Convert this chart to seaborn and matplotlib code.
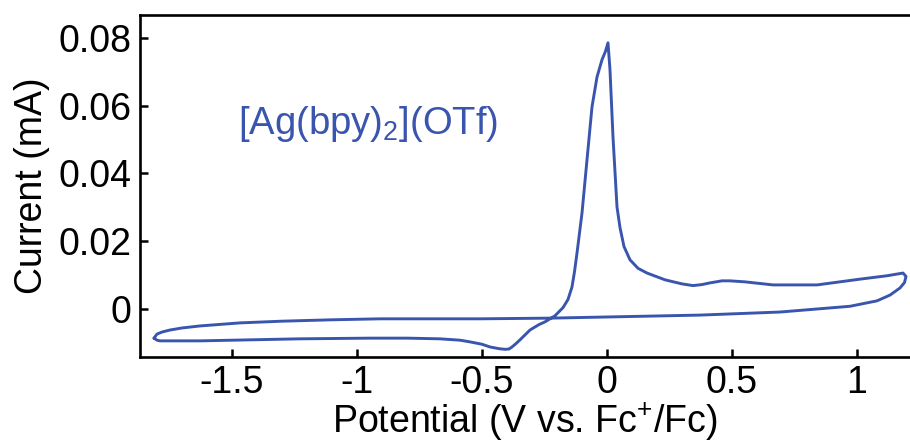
import matplotlib
matplotlib.use("Agg")
import matplotlib.pyplot as plt
import seaborn as sns
import pandas as pd

# Cyclic voltammogram of [Ag(bpy)2](OTf): one closed sweep, in trace order
potential_v = [
    -1.812, -1.800, -1.788, -1.728, -1.628, -1.428, -1.228, -0.948, -0.800,
    -0.668, -0.588, -0.548, -0.500, -0.468, -0.432, -0.408, -0.392, -0.380,
    -0.364, -0.348, -0.308, -0.272, -0.248, -0.208, -0.176, -0.156, -0.140,
    -0.130, -0.120, -0.100, -0.080, -0.060, -0.040, -0.020, -0.006, 0.004,
    0.012, 0.024, 0.040, 0.052, 0.068, 0.092, 0.124, 0.160, 0.232, 0.300,
    0.344, 0.380, 0.412, 0.460, 0.492, 0.552, 0.664, 0.840, 1.012, 1.120,
    1.184, 1.196, 1.190, 1.172, 1.132, 1.080, 0.972, 0.692, 0.372, -0.028,
    -0.228, -0.508, -0.908, -1.108, -1.300, -1.468, -1.628, -1.700, -1.748,
    -1.780, -1.800, -1.812,
]
current_ma = [
    -0.0086, -0.0092, -0.0094, -0.0094, -0.0094, -0.0091, -0.0088, -0.0086,
    -0.0086, -0.0088, -0.0092, -0.0097, -0.0104, -0.0112, -0.0117, -0.0119,
    -0.0118, -0.0112, -0.0102, -0.0091, -0.0062, -0.0046, -0.0038, -0.0020,
    0.0004, 0.0028, 0.0065, 0.0110, 0.0165, 0.0283, 0.0440, 0.0596, 0.0684,
    0.0735, 0.0760, 0.0785, 0.0705, 0.0507, 0.0301, 0.0240, 0.0184, 0.0145,
    0.0120, 0.0106, 0.0086, 0.0074, 0.0069, 0.0072, 0.0077, 0.0083, 0.0083,
    0.0080, 0.0071, 0.0071, 0.0088, 0.0098, 0.0106, 0.0096, 0.0078, 0.0062,
    0.0041, 0.0024, 0.0008, -0.0009, -0.0018, -0.0024, -0.0027, -0.0029,
    -0.0029, -0.0032, -0.0036, -0.0041, -0.0050, -0.0056, -0.0062, -0.0068,
    -0.0074, -0.0086,
]

x_ticks = [-1.5, -1.0, -0.5, 0.0, 0.5, 1.0]
x_tick_labels = ["-1.5", "-1", "-0.5", "0", "0.5", "1"]
y_ticks = [0.0, 0.02, 0.04, 0.06, 0.08]
y_tick_labels = ["0", "0.02", "0.04", "0.06", "0.08"]

compound_label = r"[Ag(bpy)$_2$](OTf)"
trace_color = "#3a55ae"

sns.set_style("ticks")
plt.rcParams["font.family"] = ["Liberation Sans", "DejaVu Sans"]
plt.rcParams["mathtext.fontset"] = "custom"
plt.rcParams["mathtext.rm"] = "Liberation Sans"
plt.rcParams["mathtext.it"] = "Liberation Sans"
for key in ("text.color", "axes.labelcolor", "xtick.color", "ytick.color"):
    plt.rcParams[key] = "black"

df = pd.DataFrame({"Potential": potential_v, "Current": current_ma})

fig = plt.figure(figsize=(9.10, 4.42), dpi=100)
ax = fig.add_axes([140 / 910, 1 - 357 / 442, 1 - 140 / 910, (357 - 15) / 442])

sns.lineplot(data=df, x="Potential", y="Current", sort=False, estimator=None,
             color=trace_color, linewidth=2.1, ax=ax)
ax.lines[0].set_solid_joinstyle("round")

ax.set_xlim(-1.868, 1.212)
ax.set_ylim(-0.01416, 0.0867)

ax.set_xticks(x_ticks)
ax.set_xticklabels(x_tick_labels)
ax.set_yticks(y_ticks)
ax.set_yticklabels(y_tick_labels)

ax.tick_params(direction="in", length=6, width=1.8, labelsize=27, pad=6)
for side in ("left", "top", "bottom"):
    ax.spines[side].set_linewidth(1.9)
    ax.spines[side].set_color("black")
ax.spines["right"].set_visible(False)

ax.set_xlabel("Potential (V vs. Fc$^{+}$/Fc)", fontsize=27, labelpad=0)
ax.set_ylabel("Current (mA)", fontsize=27, labelpad=6)

ax.text(-1.475, 0.0545, compound_label, color=trace_color, fontsize=27.5,
        ha="left", va="center")

fig.savefig("out.png", dpi=100)
